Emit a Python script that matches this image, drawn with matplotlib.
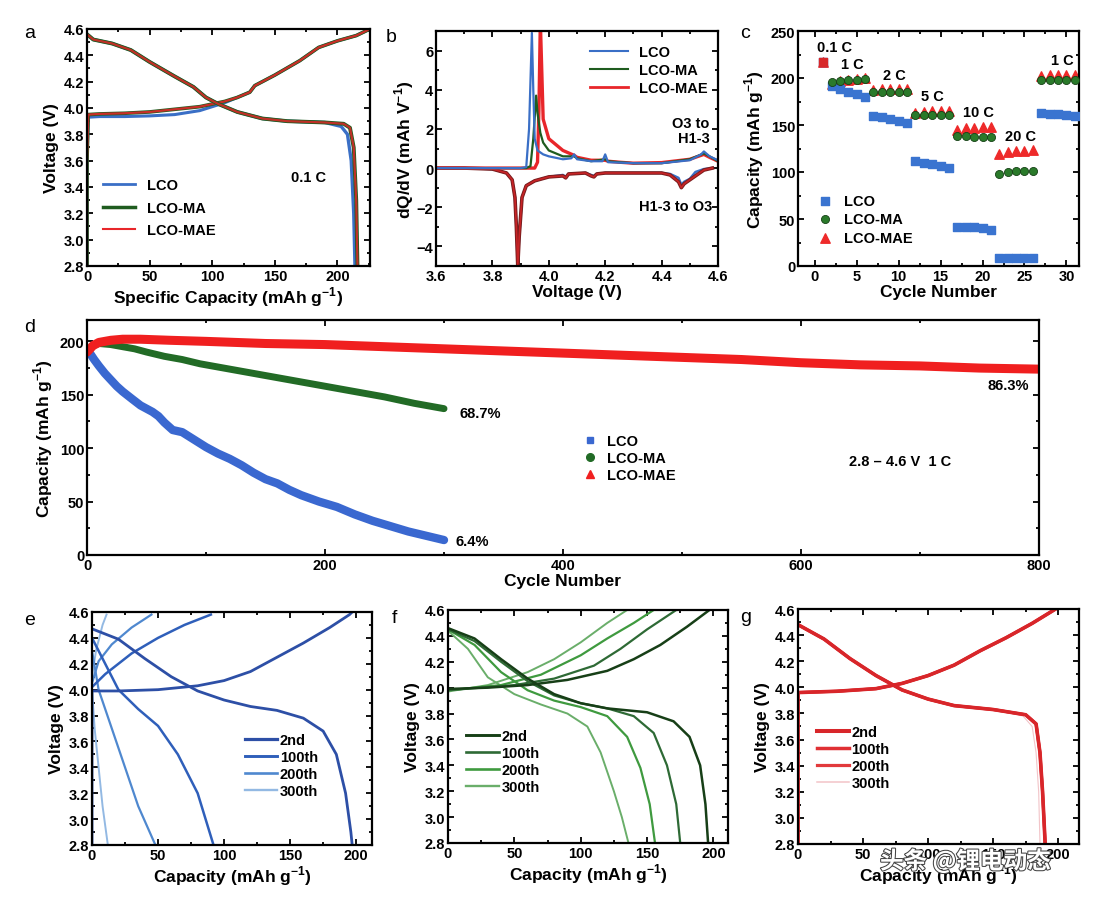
import numpy as np
import matplotlib
matplotlib.use("Agg")
import matplotlib.pyplot as plt
from matplotlib.lines import Line2D
from matplotlib.ticker import AutoMinorLocator, MultipleLocator
import matplotlib.patheffects as pe

plt.rcParams['font.family'] = ['Liberation Sans', 'DejaVu Sans']
plt.rcParams['font.weight'] = 'bold'
plt.rcParams['mathtext.fontset'] = 'custom'
plt.rcParams['mathtext.rm'] = 'Liberation Sans:bold'
plt.rcParams['mathtext.bf'] = 'Liberation Sans:bold'
plt.rcParams['axes.linewidth'] = 1.6

W, H = 1108, 904

BLUE = '#3a6fc6'
GREEN = '#1f5c1f'
RED = '#e8262a'

# ---------------- panel a : 0.1 C charge / discharge ----------------
a_chg_x = [0, 0, 1, 10, 30, 50, 70, 90, 100, 110, 120, 130, 134, 150, 170, 185, 200, 215, 226]
a_chg_lco = [2.8, 3.6, 3.93, 3.935, 3.935, 3.94, 3.95, 3.98, 4.01, 4.04, 4.08, 4.12, 4.17, 4.25, 4.36, 4.46, 4.51, 4.55, 4.6]
a_chg_mae = [2.8, 3.6, 3.95, 3.955, 3.96, 3.97, 3.99, 4.01, 4.03, 4.05, 4.08, 4.12, 4.17, 4.25, 4.36, 4.46, 4.51, 4.55, 4.6]
a_dis_x = [0, 5, 20, 35, 50, 70, 85, 95, 105, 120, 140, 160, 190, 205, 210, 213, 215, 216]
a_dis_mae = [4.56, 4.52, 4.49, 4.44, 4.35, 4.24, 4.16, 4.08, 4.03, 3.97, 3.92, 3.9, 3.89, 3.88, 3.85, 3.7, 3.3, 2.8]
a_dis_lco_x = [0, 5, 20, 35, 50, 70, 85, 95, 105, 120, 140, 160, 190, 203, 208, 211, 213, 214]
a_dis_lco = [4.56, 4.52, 4.49, 4.44, 4.35, 4.24, 4.16, 4.08, 4.03, 3.97, 3.92, 3.9, 3.89, 3.86, 3.8, 3.6, 3.2, 2.8]

# ---------------- panel b : dQ/dV ----------------
b_lco_v = [3.6, 3.9, 3.92, 3.93, 3.94, 3.945, 3.95, 3.96, 3.98, 4.0, 4.05, 4.08, 4.09, 4.1, 4.15, 4.19, 4.2, 4.21, 4.25, 4.3, 4.4, 4.5, 4.54, 4.55, 4.57, 4.6]
b_lco_q = [0, 0, 0.05, 2.0, 6.9, 4.0, 1.5, 0.9, 0.7, 0.6, 0.45, 0.5, 0.7, 0.45, 0.35, 0.35, 0.7, 0.3, 0.28, 0.25, 0.25, 0.4, 0.7, 0.85, 0.6, 0.4]
b_ma_v = [3.6, 3.92, 3.935, 3.945, 3.955, 3.96, 3.97, 3.98, 4.0, 4.05, 4.09, 4.1, 4.15, 4.2, 4.21, 4.25, 4.3, 4.4, 4.5, 4.55, 4.57, 4.6]
b_ma_q = [0, 0, 0.1, 1.5, 3.7, 2.8, 1.8, 1.3, 0.9, 0.6, 0.6, 0.5, 0.35, 0.45, 0.35, 0.3, 0.25, 0.25, 0.45, 0.75, 0.6, 0.35]
b_mae_v = [3.6, 3.95, 3.96, 3.965, 3.97, 3.975, 3.98, 4.0, 4.05, 4.09, 4.1, 4.15, 4.2, 4.21, 4.25, 4.3, 4.4, 4.5, 4.55, 4.57, 4.6]
b_mae_q = [0, 0, 0.3, 3.0, 7.5, 5.0, 2.5, 1.5, 0.9, 0.65, 0.55, 0.4, 0.4, 0.35, 0.3, 0.25, 0.28, 0.45, 0.7, 0.55, 0.35]
b_dis_v = [4.58, 4.55, 4.52, 4.5, 4.48, 4.47, 4.46, 4.43, 4.4, 4.3, 4.2, 4.17, 4.16, 4.15, 4.13, 4.07, 4.06, 4.05, 4.0, 3.95, 3.92, 3.905, 3.895, 3.89, 3.885, 3.88, 3.87, 3.85, 3.8, 3.7, 3.6]
b_dis_lco = [0, -0.05, -0.2, -0.55, -0.7, -0.85, -0.5, -0.3, -0.25, -0.25, -0.25, -0.3, -0.4, -0.35, -0.25, -0.3, -0.45, -0.35, -0.45, -0.65, -0.9, -1.5, -3.5, -5.0, -3.0, -1.5, -0.6, -0.25, -0.05, 0, 0]
b_dis_mae = [0, -0.1, -0.4, -0.6, -0.8, -1.0, -0.7, -0.35, -0.25, -0.25, -0.25, -0.3, -0.45, -0.4, -0.25, -0.3, -0.5, -0.4, -0.45, -0.65, -0.9, -1.5, -3.5, -5.0, -3.0, -1.5, -0.6, -0.25, -0.05, 0, 0]

# ---------------- panel c : rate capability ----------------
c_cycle = list(range(1, 32))
c_lco = [217, 192, 188, 185, 183, 180, 160, 158, 156, 154, 152, 112, 110, 108, 106, 104,
         42, 42, 41, 40, 38, 8, 9, 8, 8, 8, 163, 162, 162, 161, 160]
c_ma = [217, 196, 197, 198, 198, 199, 185, 185, 185, 185, 185, 161, 161, 161, 161, 161,
        138, 138, 137, 137, 137, 98, 100, 101, 101, 101, 198, 198, 198, 198, 198]
c_mae = [217, 194, 197, 198, 199, 200, 187, 188, 188, 188, 188, 163, 164, 165, 165, 165,
         145, 147, 147, 148, 148, 119, 121, 122, 122, 123, 202, 203, 203, 203, 203]
c_rate_labels = ['0.1 C', '1 C', '2 C', '5 C', '10 C', '20 C', '1 C']
c_rate_x = [2.3, 4.5, 9.5, 14.0, 19.5, 24.5, 29.5]
c_rate_y = [226, 207, 196, 173, 156, 131, 212]

# ---------------- panel d : long cycling ----------------
d_lco_x = [0, 3, 6, 10, 15, 20, 25, 30, 38, 45, 55, 60, 65, 72, 80, 90, 100, 110, 120, 130,
           140, 150, 160, 170, 180, 195, 210, 225, 240, 255, 270, 285, 300]
d_lco_y = [192, 188, 183, 177, 170, 164, 158, 153, 146, 140, 134, 130, 124, 117, 115, 108, 101, 95, 90, 84,
           77, 71, 67, 61, 56, 50, 45, 38, 32, 27, 22, 18, 14]
d_ma_x = [0, 5, 10, 20, 30, 40, 50, 65, 80, 95, 110, 130, 150, 175, 200, 225, 250, 275, 300]
d_ma_y = [190, 196, 198, 197, 195, 193, 190, 186, 183, 179, 176, 172, 168, 163, 158, 153, 148, 142, 137]
d_mae_x = [0, 5, 10, 20, 30, 45, 70, 100, 150, 200, 250, 300, 350, 400, 450, 500, 550, 600, 650, 700, 750, 800]
d_mae_y = [190, 196, 199, 201, 202, 202, 201, 200, 198, 197, 195, 193, 191, 189, 187, 185, 183, 180, 178, 177, 175, 174]

# ---------------- panels e, f, g : selected cycles ----------------
cyc_labels = ['2nd', '100th', '200th', '300th']

e_chg_x = [[0, 0, 20, 50, 80, 100, 120, 140, 160, 180, 195, 197],
           [0, 3, 10, 30, 50, 70, 90],
           [0, 5, 15, 30, 45],
           [0, 3, 8, 11]]
e_chg_y = [[2.8, 3.99, 3.99, 4.0, 4.03, 4.07, 4.14, 4.25, 4.36, 4.48, 4.58, 4.6],
           [4.02, 4.05, 4.12, 4.28, 4.4, 4.5, 4.58],
           [4.05, 4.22, 4.35, 4.48, 4.58],
           [4.1, 4.3, 4.5, 4.58]]
e_dis_x = [[0, 20, 40, 60, 80, 100, 120, 140, 160, 175, 185, 192, 196, 197],
           [0, 10, 20, 35, 50, 65, 80, 92],
           [0, 5, 15, 25, 35, 48],
           [0, 2, 5, 8, 12]]
e_dis_y = [[4.47, 4.39, 4.24, 4.1, 3.99, 3.92, 3.87, 3.84, 3.78, 3.68, 3.5, 3.2, 2.9, 2.8],
           [4.4, 4.2, 4.0, 3.85, 3.72, 3.5, 3.2, 2.8],
           [4.3, 4.0, 3.7, 3.4, 3.1, 2.8],
           [4.0, 3.7, 3.4, 3.1, 2.8]]

f_chg_x = [[0, 30, 60, 90, 120, 140, 160, 180, 197],
           [0, 50, 80, 110, 130, 150, 172],
           [0, 40, 70, 100, 120, 140, 155],
           [0, 30, 60, 80, 100, 120, 135]]
f_chg_y = [[3.99, 4.0, 4.02, 4.06, 4.13, 4.22, 4.33, 4.47, 4.6],
           [3.98, 4.02, 4.07, 4.17, 4.3, 4.45, 4.6],
           [3.98, 4.02, 4.1, 4.25, 4.38, 4.5, 4.6],
           [3.97, 4.02, 4.12, 4.22, 4.35, 4.5, 4.6]]
f_dis_x = [[0, 20, 40, 60, 80, 100, 120, 150, 170, 182, 190, 194, 196],
           [0, 20, 40, 60, 80, 100, 120, 140, 155, 165, 172, 175],
           [0, 20, 40, 60, 80, 100, 120, 135, 145, 152, 156],
           [0, 15, 30, 50, 70, 90, 105, 115, 125, 131, 136]]
f_dis_y = [[4.46, 4.38, 4.22, 4.07, 3.95, 3.88, 3.84, 3.81, 3.74, 3.62, 3.4, 3.1, 2.8],
           [4.45, 4.36, 4.2, 4.05, 3.94, 3.88, 3.84, 3.78, 3.65, 3.4, 3.1, 2.8],
           [4.45, 4.33, 4.12, 3.98, 3.9, 3.85, 3.78, 3.62, 3.38, 3.1, 2.8],
           [4.44, 4.3, 4.08, 3.95, 3.87, 3.8, 3.7, 3.5, 3.2, 3.0, 2.8]]

g_chg_x = [0, 0, 30, 60, 80, 100, 120, 140, 160, 180, 198]
g_chg_y = [2.8, 3.96, 3.97, 3.99, 4.03, 4.09, 4.17, 4.28, 4.38, 4.49, 4.6]
g_dis_x = [0, 20, 40, 60, 80, 100, 120, 150, 175, 183, 186, 188, 190]
g_dis_y = [4.48, 4.37, 4.22, 4.09, 3.98, 3.91, 3.86, 3.83, 3.79, 3.72, 3.5, 3.2, 2.8]
g_dis_300_x = [0, 20, 40, 60, 80, 100, 120, 150, 173, 180, 183, 185, 186]
g_dis_300_y = [4.48, 4.37, 4.22, 4.09, 3.98, 3.91, 3.86, 3.83, 3.78, 3.7, 3.5, 3.2, 2.8]

e_colors = ['#2d4fa6', '#2f5fba', '#4f88cf', '#93b9e3']
f_colors = ['#173f17', '#2e6a35', '#3f9a3f', '#6aae6a']
g_colors = ['#d8262a', '#e03034', '#e23a3c', '#f2c4c8']


def px_axes(fig, l, t, r, b):
    return fig.add_axes([l / W, 1 - b / H, (r - l) / W, (b - t) / H])


def style(ax):
    ax.tick_params(direction='in', which='both', top=True, right=True,
                   labelsize=10.5, width=1.3, pad=2)
    ax.tick_params(which='major', length=4)
    ax.tick_params(which='minor', length=2.5)
    ax.xaxis.set_minor_locator(AutoMinorLocator(2))
    ax.yaxis.set_minor_locator(AutoMinorLocator(2))
    for lab in ax.get_xticklabels() + ax.get_yticklabels():
        lab.set_fontweight('bold')


fig = plt.figure(figsize=(W / 100, H / 100), dpi=100)
fig.patch.set_facecolor('white')
LBL = 12.5
UNIT = r'(mAh g$^{-1}$)'

# ---- a
ax = px_axes(fig, 87, 30, 370, 267)
ax.plot(a_chg_x, a_chg_lco, color=BLUE, lw=2.2)
ax.plot(a_chg_x, a_chg_mae, color=GREEN, lw=2.6)
ax.plot(a_chg_x, a_chg_mae, color=RED, lw=1.6, alpha=0.85)
ax.plot(a_dis_lco_x, a_dis_lco, color=BLUE, lw=2.4)
ax.plot(a_dis_x, a_dis_mae, color=GREEN, lw=2.8)
ax.plot(a_dis_x, a_dis_mae, color=RED, lw=1.6, alpha=0.8)
ax.set_xlim(0, 226)
ax.set_ylim(2.8, 4.6)
ax.xaxis.set_major_locator(MultipleLocator(50))
ax.yaxis.set_major_locator(MultipleLocator(0.2))
style(ax)
ax.set_xlabel('Specific Capacity ' + UNIT, fontsize=LBL, fontweight='bold', labelpad=1)
ax.set_ylabel('Voltage (V)', fontsize=LBL, fontweight='bold', labelpad=3)
ax.text(0.72, 0.36, '0.1 C', transform=ax.transAxes, fontsize=10.5, fontweight='bold')
h = [Line2D([], [], color=BLUE, lw=2), Line2D([], [], color=GREEN, lw=2.5), Line2D([], [], color=RED, lw=1.5)]
ax.legend(h, ['LCO', 'LCO-MA', 'LCO-MAE'], loc='lower left', bbox_to_anchor=(0.03, 0.09),
          frameon=False, fontsize=10.5, handlelength=2.2, labelspacing=0.6, borderpad=0)
fig.text(24 / W, 1 - 38 / H, 'a', fontsize=14, fontweight='normal')

# ---- b
ax = px_axes(fig, 436, 32, 718, 267)
ax.plot(b_dis_v, b_dis_lco, color=BLUE, lw=1.8)
ax.plot(b_dis_v, b_dis_mae, color='#7a1d1d', lw=2.6)
ax.plot(b_dis_v, b_dis_mae, color=RED, lw=1.2, alpha=0.7)
ax.plot(b_mae_v, b_mae_q, color=RED, lw=2.4)
ax.plot(b_ma_v, b_ma_q, color=GREEN, lw=1.6)
ax.plot(b_lco_v, b_lco_q, color=BLUE, lw=1.6)
ax.set_xlim(3.6, 4.6)
ax.set_ylim(-5, 7)
ax.xaxis.set_major_locator(MultipleLocator(0.2))
ax.yaxis.set_major_locator(MultipleLocator(2))
style(ax)
ax.set_xlabel('Voltage (V)', fontsize=LBL, fontweight='bold', labelpad=1)
ax.set_ylabel(r'dQ/dV (mAh V$^{-1}$)', fontsize=LBL, fontweight='bold', labelpad=0)
ax.text(4.57, 1.9, 'O3 to\nH1-3', ha='right', va='center', fontsize=10.5, fontweight='bold', linespacing=1.1)
ax.text(4.58, -1.95, 'H1-3 to O3', ha='right', va='center', fontsize=10.5, fontweight='bold')
h = [Line2D([], [], color=BLUE, lw=1.5), Line2D([], [], color=GREEN, lw=1.5), Line2D([], [], color=RED, lw=2)]
ax.legend(h, ['LCO', 'LCO-MA', 'LCO-MAE'], loc='upper right', bbox_to_anchor=(0.99, 0.97),
          frameon=False, fontsize=10.5, handlelength=2.6, labelspacing=0.25, borderpad=0)
fig.text(386 / W, 1 - 42 / H, 'b', fontsize=14, fontweight='normal')

# ---- c
ax = px_axes(fig, 798, 32, 1079, 267)
ax.scatter(c_cycle, c_lco, marker='s', s=34, color='#3a74d0', zorder=3, label='LCO')
ax.scatter(c_cycle, c_ma, marker='o', s=34, color='#2a7a2a', edgecolors='#164016', lw=0.6, zorder=4, label='LCO-MA')
ax.scatter(c_cycle, c_mae, marker='^', s=46, color='#ee2a2a', zorder=2, label='LCO-MAE')
ax.scatter([1], [217], marker='s', s=40, color='#d8282a', zorder=5)
ax.set_xlim(-2, 31.5)
ax.set_ylim(0, 250)
ax.xaxis.set_major_locator(MultipleLocator(5))
ax.yaxis.set_major_locator(MultipleLocator(50))
style(ax)
for t, x, y in zip(c_rate_labels, c_rate_x, c_rate_y):
    ax.text(x, y, t, ha='center', va='bottom', fontsize=10.5, fontweight='bold')
ax.set_xlabel('Cycle Number', fontsize=LBL, fontweight='bold', labelpad=1)
ax.set_ylabel('Capacity ' + UNIT, fontsize=LBL, fontweight='bold', labelpad=3)
ax.legend(loc='lower left', bbox_to_anchor=(0.02, 0.06), frameon=False, fontsize=10.5,
          handletextpad=0.3, labelspacing=0.3, borderpad=0, scatterpoints=1)
fig.text(740 / W, 1 - 38 / H, 'c', fontsize=14, fontweight='normal')

# ---- d
ax = px_axes(fig, 87, 321, 1039, 556)
ax.plot(d_lco_x, d_lco_y, color='#3a68d0', lw=6, solid_capstyle='round', solid_joinstyle='round')
ax.plot(d_ma_x, d_ma_y, color='#226b26', lw=5, solid_capstyle='round', solid_joinstyle='round')
ax.plot(d_mae_x, d_mae_y, color='#f01f1f', lw=6.5, solid_capstyle='round', solid_joinstyle='round')
ax.set_xlim(0, 800)
ax.set_ylim(0, 220)
ax.xaxis.set_major_locator(MultipleLocator(200))
ax.yaxis.set_major_locator(MultipleLocator(50))
style(ax)
ax.text(310, 13, '6.4%', va='center', fontsize=10.5, fontweight='bold')
ax.text(313, 133, '68.7%', va='center', fontsize=10.5, fontweight='bold')
ax.text(792, 159, '86.3%', ha='right', va='center', fontsize=10.5, fontweight='bold')
ax.text(640, 88, '2.8 – 4.6 V  1 C', va='center', fontsize=10.5, fontweight='bold')
h = [Line2D([], [], ls='', marker='s', ms=5, color='#3a68d0'),
     Line2D([], [], ls='', marker='o', ms=5.5, color='#226b26'),
     Line2D([], [], ls='', marker='^', ms=6, color='#f01f1f')]
ax.legend(h, ['LCO', 'LCO-MA', 'LCO-MAE'], loc='upper left', bbox_to_anchor=(0.505, 0.545),
          frameon=False, fontsize=10.5, handletextpad=0.2, labelspacing=0.2, borderpad=0)
ax.set_xlabel('Cycle Number', fontsize=LBL, fontweight='bold', labelpad=1)
ax.set_ylabel('Capacity ' + UNIT, fontsize=LBL, fontweight='bold', labelpad=3)
fig.text(24 / W, 1 - 332 / H, 'd', fontsize=14, fontweight='normal')


def cycles_panel(l, t, r, b, xmax, chg_x, chg_y, dis_x, dis_y, colors, widths, letter, lx, leg_anchor):
    ax = px_axes(fig, l, t, r, b)
    for i in range(len(chg_x) - 1, -1, -1):
        ax.plot(chg_x[i], chg_y[i], color=colors[i], lw=widths[i])
        ax.plot(dis_x[i], dis_y[i], color=colors[i], lw=widths[i])
    ax.set_xlim(0, xmax)
    ax.set_ylim(2.8, 4.6)
    ax.xaxis.set_major_locator(MultipleLocator(50))
    ax.yaxis.set_major_locator(MultipleLocator(0.2))
    style(ax)
    h = [Line2D([], [], color=colors[i], lw=widths[i] + 0.3) for i in range(4)]
    ax.legend(h, cyc_labels, loc='lower left', bbox_to_anchor=leg_anchor, frameon=False,
              fontsize=10.5, handlelength=2.2, handletextpad=0.2, labelspacing=0.2, borderpad=0)
    ax.set_xlabel('Capacity ' + UNIT, fontsize=LBL, fontweight='bold', labelpad=1)
    ax.set_ylabel('Voltage (V)', fontsize=LBL, fontweight='bold', labelpad=3)
    fig.text(lx / W, 1 - (t + 12) / H, letter, fontsize=14, fontweight='normal')
    return ax


cycles_panel(92, 613, 372, 846, 212, e_chg_x, e_chg_y, e_dis_x, e_dis_y,
             e_colors, [2.0, 1.8, 1.6, 1.4], 'e', 24, (0.52, 0.17))
cycles_panel(448, 611, 728, 844, 211, f_chg_x, f_chg_y, f_dis_x, f_dis_y,
             f_colors, [1.8, 1.6, 1.6, 1.4], 'f', 392, (0.04, 0.18))
cycles_panel(798, 610, 1079, 845, 216,
             [g_chg_x] * 4, [g_chg_y] * 4,
             [g_dis_x, g_dis_x, g_dis_x, g_dis_300_x],
             [g_dis_y, g_dis_y, g_dis_y, g_dis_300_y],
             g_colors, [2.6, 2.2, 2.0, 0.8], 'g', 740, (0.04, 0.2))

# watermark
fig.text(880 / W, 1 - 862 / H, '头条 @锂电动态', fontsize=17,
         family=['Noto Sans CJK SC', 'DejaVu Sans'], color='white', va='center',
         path_effects=[pe.withStroke(linewidth=1.5, foreground='#444444')])

fig.savefig('out.png', dpi=100, facecolor='white')
